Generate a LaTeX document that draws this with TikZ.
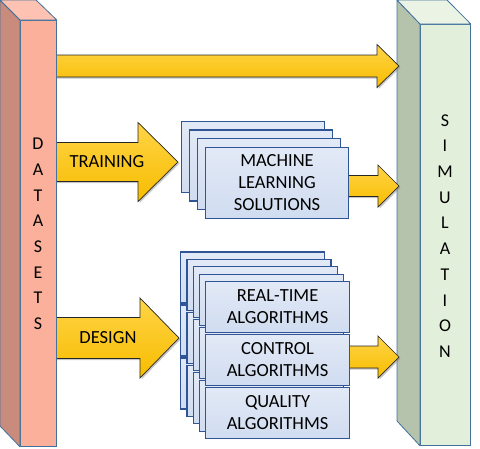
\documentclass[tikz,border=0pt]{standalone}
\usepackage{fontspec}
\setmainfont{Carlito}
\usetikzlibrary{calc,shadows}
\definecolor{dsfront}{HTML}{FBB09B}
\definecolor{dsside}{HTML}{C98B7B}
\definecolor{dstop}{HTML}{FDC2B2}
\definecolor{simfront}{HTML}{E2EFDA}
\definecolor{simside}{HTML}{B5C3AD}
\definecolor{simtop}{HTML}{EAF3E4}
\definecolor{pborder}{HTML}{41719C}
\definecolor{boxtop}{HTML}{E2E9F6}
\definecolor{boxbot}{HTML}{D0DCF0}
\definecolor{boxline}{HTML}{2F5597}
\definecolor{goldtop}{HTML}{FFD447}
\definecolor{goldbot}{HTML}{F7BD00}
\definecolor{arrline}{HTML}{262626}
\tikzset{
  pillar/.style={draw=pborder, line width=0.8pt, inner sep=0pt, anchor=north west},
  stackbox/.style={draw=boxline, line width=1.1pt, top color=boxtop, bottom color=boxbot,
    anchor=north west, inner sep=0pt, align=center, font=\fontsize{18.5}{22}\selectfont},
  barrow/.style={draw=arrline, line width=0.7pt, top color=goldtop, bottom color=goldbot,
    line join=miter, drop shadow={shadow xshift=1.5pt, shadow yshift=-1.5pt, opacity=0.45}},
  atext/.style={font=\fontsize{18.5}{22}\selectfont, inner sep=0pt},
  vtext/.style={font=\fontsize{18}{25.7}\selectfont, align=center, inner sep=0pt},
}
\newcommand\blockarr[5]{%
  \draw[barrow] let \p1=(#1), \p2=(#2) in
    (\x1,\y1+#3) -- (\x2-#5,\y1+#3) -- (\x2-#5,\y1+#4) -- (\x2,\y1)
    -- (\x2-#5,\y1-#4) -- (\x2-#5,\y1-#3) -- (\x1,\y1-#3) -- cycle;}
\begin{document}
\begin{tikzpicture}[x=1pt, y=-1pt]
\useasboundingbox (0,0) rectangle (480,448);
% SIMULATION pillar
\node[pillar, fill=simfront, minimum width=50pt, minimum height=421pt] (sim) at (420,24) {};
\draw[draw=pborder, line width=0.8pt, fill=simside, line join=round]
  (sim.north west) -- ++(-23,-24) -- ++(0,421) -- (sim.south west) -- cycle;
\draw[draw=pborder, line width=0.8pt, fill=simtop, line join=round]
  (sim.north west) -- ++(-23,-24) -- ++(50,0) -- (sim.north east) -- cycle;
\node[vtext] (simtext) at (445,236) {S\\I\\M\\U\\L\\A\\T\\I\\O\\N};
% arrow coordinates
\coordinate (a1s) at (50,66);   \coordinate (a1e) at (399,66);
\coordinate (a2s) at (50,162);  \coordinate (a2e) at (178,162);
\coordinate (a3s) at (50,338);  \coordinate (a3e) at (179,338);
\coordinate (a4s) at (345,186); \coordinate (a4e) at (399,186);
\coordinate (a5s) at (345,357); \coordinate (a5e) at (399,357);
\blockarr{a1s}{a1e}{11pt}{21.5pt}{22pt}
\blockarr{a2s}{a2e}{19.5pt}{39.5pt}{40pt}
\blockarr{a3s}{a3e}{20.5pt}{40pt}{39pt}
\blockarr{a4s}{a4e}{10.5pt}{21pt}{21pt}
\blockarr{a5s}{a5e}{11pt}{21pt}{21pt}
\node[atext] (trainlbl) at (107,162) {TRAINING};
\node[atext] (designlbl) at (108,338) {DESIGN};
% DATASETS pillar
\node[pillar, fill=dsfront, minimum width=36pt, minimum height=426pt] (ds) at (20,20) {};
\draw[draw=pborder, line width=0.8pt, fill=dsside, line join=round]
  (ds.north west) -- ++(-20,-20) -- ++(0,426) -- (ds.south west) -- cycle;
\draw[draw=pborder, line width=0.8pt, fill=dstop, line join=round]
  (ds.north west) -- ++(-20,-20) -- ++(36,0) -- (ds.north east) -- cycle;
\node[vtext] (dstext) at (38,234) {D\\A\\T\\A\\S\\E\\T\\S};
% machine learning stack
\foreach \i in {3,2,1} {
  \node[stackbox, minimum width=143pt, minimum height=71pt] (ml\i) at (205-8*\i,147-8.8*\i) {};
}
\node[stackbox, minimum width=143pt, minimum height=71pt] (ml) at (205,147) {MACHINE\\LEARNING\\SOLUTIONS};
% design stack
\foreach \i in {4,3,2,1} {
  \foreach \j/\t in {a/281,b/334,c/387} {
    \node[stackbox, minimum width=144pt, minimum height=51pt] (d\i\j) at (205-6.2*\i,\t-7.4*\i) {};
  }
}
\node[stackbox, minimum width=144pt, minimum height=51pt] (rt) at (205,281) {REAL-TIME\\ALGORITHMS};
\node[stackbox, minimum width=144pt, minimum height=51pt] (ctrl) at (205,334) {CONTROL\\ALGORITHMS};
\node[stackbox, minimum width=144pt, minimum height=51pt] (qual) at (205,387) {QUALITY\\ALGORITHMS};
\end{tikzpicture}
\end{document}
